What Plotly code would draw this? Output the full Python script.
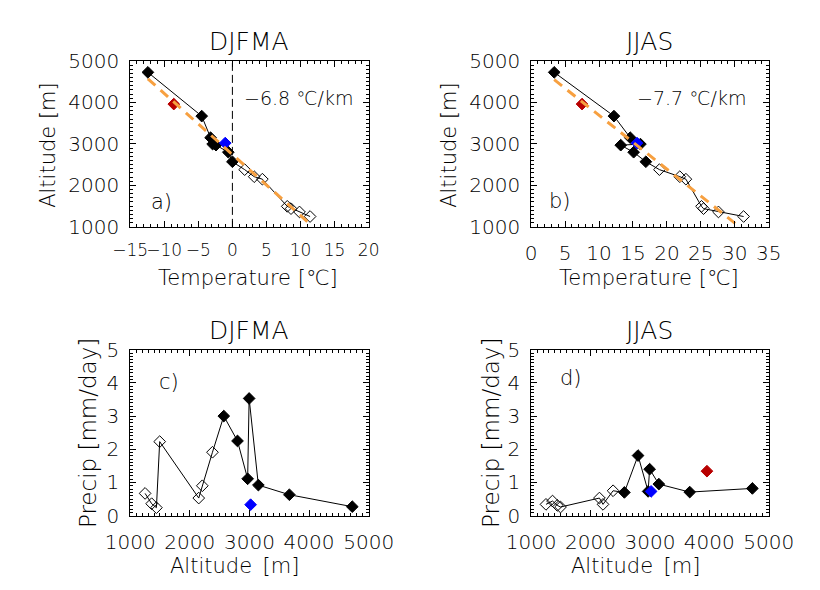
import plotly.graph_objects as go

FONT = "DejaVu Sans"
FONT_WEIGHT = 200

# Station altitudes [m], ordered from lowest to highest
station_alt = [1250, 1360, 1440, 1495, 2150, 2210, 2380, 2570, 2800, 2970, 2995, 3150, 3670, 4725]

# Seasonal mean temperature [°C] at each station
temp_djfma = [11.4, 9.85, 8.6, 8.05, 4.4, 3.2, 1.8, 0.0, -0.6, -2.4, -2.9, -3.2, -4.5, -12.4]
temp_jjas = [31.3, 27.6, 25.4, 25.1, 22.8, 21.9, 18.9, 16.9, 15.1, 13.2, 16.1, 14.6, 12.2, 3.4]

# Seasonal mean precipitation [mm/day] at each station
precip_djfma = [0.67, 0.36, 0.24, 2.23, 0.53, 0.90, 1.91, 3.00, 2.25, 1.11, 3.53, 0.92, 0.63, 0.27]
precip_jjas = [0.34, 0.44, 0.31, 0.26, 0.53, 0.34, 0.75, 0.70, 1.81, 0.73, 1.40, 0.95, 0.71, 0.82]

# Stations below this altitude are drawn with open symbols
low_station_limit = 2500

# Additional stations (blue and red)
blue_alt = 3020
blue_temp = {"DJFMA": -1.05, "JJAS": 15.6}
blue_precip = {"DJFMA": 0.33, "JJAS": 0.73}
red_alt = 3960
red_temp = {"DJFMA": -8.6, "JJAS": 7.5}
red_precip = {"JJAS": 1.34}

# Fitted lapse rates [°C/km] and fitted temperature at 3000 m
lapse_rate = {"DJFMA": -6.8, "JJAS": -7.7}
fit_t3000 = {"DJFMA": -1.73, "JJAS": 15.32}

BLACK = "black"
BLUE = "#0000ff"
RED = "#b80000"
ORANGE = "#f7a040"

# Panel frames in paper coordinates
dom_x_left = [112 / 820, 366 / 820]
dom_x_right = [539 / 820, 792 / 820]
dom_y_top = [(590 - 224) / 590, (590 - 51) / 590]
dom_y_bot = [(590 - 525) / 590, (590 - 352) / 590]

MSIZE = 9

fig = go.Figure()


def station_traces(xs, ys, xa, ya):
    """Connected station profile: black line, open low stations, filled high stations."""
    fig.add_trace(go.Scatter(x=xs, y=ys, mode="lines", xaxis=xa, yaxis=ya,
                             line=dict(color=BLACK, width=1), hoverinfo="skip"))
    lo = [i for i, a in enumerate(station_alt) if a < low_station_limit]
    hi = [i for i, a in enumerate(station_alt) if a >= low_station_limit]
    fig.add_trace(go.Scatter(x=[xs[i] for i in lo], y=[ys[i] for i in lo], mode="markers",
                             xaxis=xa, yaxis=ya,
                             marker=dict(symbol="diamond-open", size=MSIZE, color=BLACK,
                                         line=dict(width=1, color=BLACK))))
    fig.add_trace(go.Scatter(x=[xs[i] for i in hi], y=[ys[i] for i in hi], mode="markers",
                             xaxis=xa, yaxis=ya,
                             marker=dict(symbol="diamond", size=MSIZE, color=BLACK,
                                         line=dict(width=1, color=BLACK))))


def extra_point(x, y, color, xa, ya):
    fig.add_trace(go.Scatter(x=[x], y=[y], mode="markers", xaxis=xa, yaxis=ya,
                             marker=dict(symbol="diamond", size=MSIZE, color=color,
                                         line=dict(width=1, color=color))))


def lapse_line(season, temps, xa, ya):
    # straight fit over the temperature span of the stations
    t_lo, t_hi = min(temps), max(temps)
    rate = lapse_rate[season] / 1000.0
    xs = [t_lo, t_hi]
    ys = [3000 + (t - fit_t3000[season]) / rate for t in xs]
    fig.add_trace(go.Scatter(x=xs, y=ys, mode="lines", xaxis=xa, yaxis=ya,
                             line=dict(color=ORANGE, width=3, dash="10px,7px"),
                             hoverinfo="skip"))


# a) DJFMA temperature profile
station_traces(temp_djfma, station_alt, "x", "y")
extra_point(red_temp["DJFMA"], red_alt, RED, "x", "y")
extra_point(blue_temp["DJFMA"], blue_alt, BLUE, "x", "y")
lapse_line("DJFMA", temp_djfma, "x", "y")

# b) JJAS temperature profile
station_traces(temp_jjas, station_alt, "x2", "y2")
extra_point(red_temp["JJAS"], red_alt, RED, "x2", "y2")
extra_point(blue_temp["JJAS"], blue_alt, BLUE, "x2", "y2")
lapse_line("JJAS", temp_jjas, "x2", "y2")

# c) DJFMA precipitation
station_traces(station_alt, precip_djfma, "x3", "y3")
extra_point(blue_alt, blue_precip["DJFMA"], BLUE, "x3", "y3")

# d) JJAS precipitation
station_traces(station_alt, precip_jjas, "x4", "y4")
extra_point(red_alt, red_precip["JJAS"], RED, "x4", "y4")
extra_point(blue_alt, blue_precip["JJAS"], BLUE, "x4", "y4")


def axis(domain, rng, dtick, minor_dtick, anchor, is_y=False, label_size=20):
    d = dict(domain=domain, range=rng, dtick=dtick, tick0=0, anchor=anchor,
             ticks="inside", ticklen=6, tickwidth=1, tickcolor=BLACK,
             showline=True, linecolor=BLACK, linewidth=1, mirror="allticks",
             showgrid=False, zeroline=False, fixedrange=True, tickangle=0,
             minor=dict(dtick=minor_dtick, tick0=0, ticks="inside", ticklen=3,
                        tickwidth=1, tickcolor=BLACK, showgrid=False),
             tickfont=dict(family=FONT, size=label_size, color=BLACK, weight=FONT_WEIGHT))
    d["ticklabelstandoff"] = 6 if is_y else 8
    return d


fig.update_layout(
    width=820, height=590,
    margin=dict(l=0, r=0, t=0, b=0),
    paper_bgcolor="white", plot_bgcolor="white",
    showlegend=False,
    font=dict(family=FONT, color=BLACK, weight=FONT_WEIGHT),
    xaxis=axis(dom_x_left, [-15, 20], 5, 1, "y", label_size=17),
    yaxis=axis(dom_y_top, [1000, 5000], 1000, 100, "x", True),
    xaxis2=axis(dom_x_right, [0, 35], 5, 1, "y2"),
    yaxis2=axis(dom_y_top, [1000, 5000], 1000, 100, "x2", True),
    xaxis3=axis(dom_x_left, [1000, 5000], 1000, 100, "y3"),
    yaxis3=axis(dom_y_bot, [0, 5], 1, 0.1, "x3", True),
    xaxis4=axis(dom_x_right, [1000, 5000], 1000, 100, "y4"),
    yaxis4=axis(dom_y_bot, [0, 5], 1, 0.1, "x4", True),
)

# freezing level marker in panel a
fig.add_shape(type="line", xref="x", yref="y domain", x0=0, x1=0, y0=0, y1=1,
              line=dict(color=BLACK, width=1, dash="8px,4px"))


def px_ann(text, x, y, size, angle=0):
    fig.add_annotation(text=text, x=x / 820, y=1 - y / 590, xref="paper", yref="paper",
                       showarrow=False, textangle=angle, xanchor="center", yanchor="middle",
                       font=dict(family=FONT, size=size, color=BLACK, weight=FONT_WEIGHT))


# panel titles
px_ann("DJFMA", 239, 31, 25)
px_ann("JJAS", 665, 31, 25)
px_ann("DJFMA", 239, 332, 25)
px_ann("JJAS", 665, 332, 25)

# axis titles
px_ann("Temperature [℃]", 238, 277, 21)
px_ann("Temperature [℃]", 665, 277, 21)
px_ann("Altitude\u2002[m]", 223, 578, 21)
px_ann("Altitude\u2002[m]", 650, 578, 21)
px_ann("Altitude [m]", 25, 138, 21, -90)
px_ann("Altitude [m]", 452, 138, 21, -90)
px_ann("Precip [mm/day]", 67, 439, 23, -90)
px_ann("Precip [mm/day]", 496, 439, 23, -90)

# panel letters
px_ann("a)", 145, 198, 21)
px_ann("b)", 570, 197, 21)
px_ann("c)", 153, 386, 21)
px_ann("d)", 581, 382, 21)

# lapse-rate labels
px_ann(f"−{abs(lapse_rate['DJFMA']):.1f} ℃/km", 291, 90, 19)
px_ann(f"−{abs(lapse_rate['JJAS']):.1f} ℃/km", 710, 90, 19)

fig.write_html("out.html")
